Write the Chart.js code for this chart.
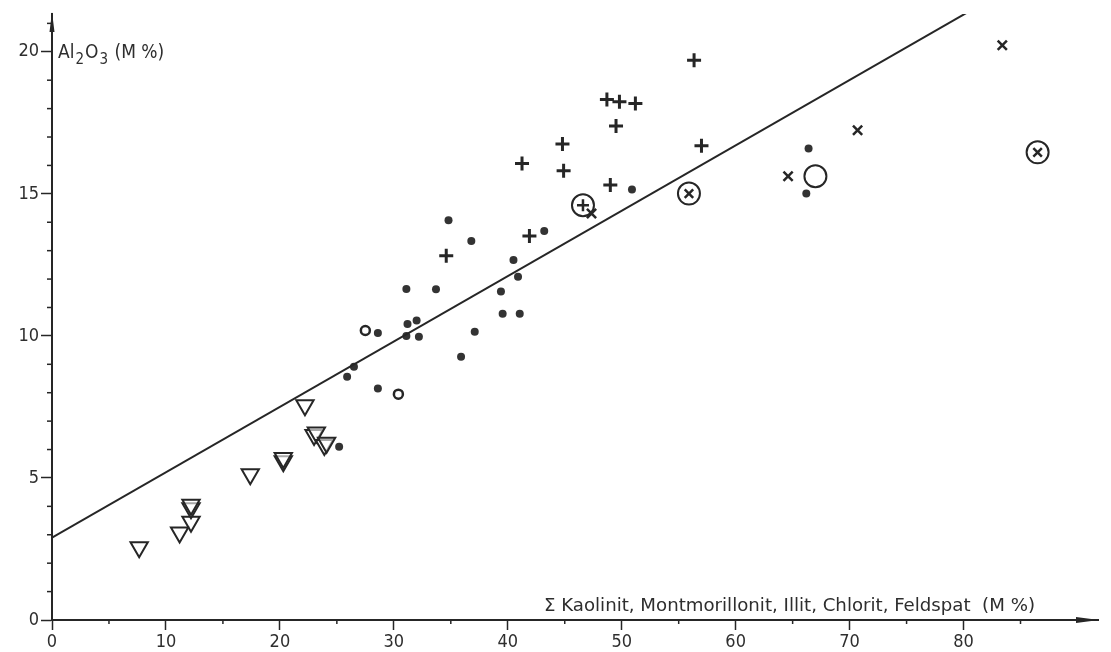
<!DOCTYPE html>
<html lang="de">
<head>
    <meta charset="UTF-8">
    <title>Al2O3 gegen Tonminerale</title>
    <style>
        body {
            margin: 0;
            background-color: #fff;
        }

        .chart-box {
            width: 1111px;
            height: 652px;
        }
    </style>
    <script src="https://cdn.jsdelivr.net/npm/chart.js"></script>
</head>
<body>
<div class="chart-box">
    <canvas id="alChart"></canvas>
</div>
<script>
    // values (x = sum of minerals M%, y = Al2O3 M%)
    const dotX = [25.2, 25.9, 26.5, 28.6, 28.6, 31.1, 31.2, 32.0, 32.2, 31.1, 33.7, 34.8, 36.8, 35.9, 37.1, 39.4, 39.55, 41.05, 40.5, 40.9, 43.2, 50.9, 66.4, 66.2];
    const dotY = [6.10, 8.56, 8.91, 8.15, 10.10, 10.0, 10.42, 10.54, 9.97, 11.65, 11.64, 14.07, 13.34, 9.27, 10.15, 11.56, 10.78, 10.78, 12.67, 12.08, 13.69, 15.15, 16.60, 15.01];

    const ringX = [27.5, 30.4];
    const ringY = [10.19, 7.95];

    const bigRingX = [67.0];
    const bigRingY = [15.62];

    const plusX = [56.35, 48.7, 49.8, 51.2, 49.5, 44.8, 41.25, 44.9, 57.0, 49.0, 34.6, 41.9];
    const plusY = [19.70, 18.32, 18.24, 18.18, 17.39, 16.75, 16.07, 15.81, 16.69, 15.31, 12.82, 13.52];

    const crossX = [83.4, 70.7, 64.6, 47.35];
    const crossY = [20.23, 17.24, 15.62, 14.31];

    const circPlusX = [46.6];
    const circPlusY = [14.60];

    const circCrossX = [55.9, 86.5];
    const circCrossY = [15.01, 16.46];

    const triX = [7.65, 11.2, 12.2, 12.2, 12.2, 17.4, 20.3, 20.3, 22.2, 23.0, 23.2, 23.9, 24.1];
    const triY = [2.56, 3.08, 3.46, 3.93, 4.06, 5.13, 5.59, 5.70, 7.56, 6.51, 6.60, 6.16, 6.24];

    // regression line end points
    const fitX = [0, 80.4];
    const fitY = [2.9, 21.4];

    const xTicks = [0, 10, 20, 30, 40, 50, 60, 70, 80];
    const yTicks = [0, 5, 10, 15, 20];

    const ink = '#262626';
    const textInk = '#2e2e2e';
    const fontFamily = "'Liberation Sans Narrow', 'DejaVu Sans Condensed', sans-serif";

    function pts(xs, ys) {
        return xs.map((x, i) => ({x: x, y: ys[i]}));
    }

    // minor ticks, arrow heads and the two axis titles
    const axisExtras = {
        id: 'axisExtras',
        afterDraw(chart) {
            const ctx = chart.ctx;
            const xs = chart.scales.x;
            const ys = chart.scales.y;
            const left = chart.chartArea.left;
            const bottom = chart.chartArea.bottom;
            const top = chart.chartArea.top;
            const right = chart.chartArea.right;

            ctx.save();
            ctx.strokeStyle = ink;
            ctx.fillStyle = ink;
            ctx.lineWidth = 1.5;

            for (let v = 1; v <= 21; v++) {
                if (v % 5 === 0) continue;
                const py = ys.getPixelForValue(v);
                ctx.beginPath();
                ctx.moveTo(left - 5, py);
                ctx.lineTo(left, py);
                ctx.stroke();
            }
            for (let v = 5; v <= 85; v += 10) {
                const px = xs.getPixelForValue(v);
                ctx.beginPath();
                ctx.moveTo(px, bottom);
                ctx.lineTo(px, bottom + 4);
                ctx.stroke();
            }

            // y arrow
            ctx.beginPath();
            ctx.moveTo(left, top - 2);
            ctx.lineTo(left - 2.5, top + 18);
            ctx.lineTo(left + 2.5, top + 18);
            ctx.closePath();
            ctx.fill();

            // x arrow
            ctx.beginPath();
            ctx.moveTo(right + 1, bottom);
            ctx.lineTo(right - 22, bottom - 3);
            ctx.lineTo(right - 22, bottom + 3);
            ctx.closePath();
            ctx.fill();

            // y title with subscripts
            ctx.fillStyle = textInk;
            ctx.textBaseline = 'alphabetic';
            ctx.textAlign = 'left';
            const big = '19px ' + fontFamily;
            const small = '15px ' + fontFamily;
            let tx = left + 6;
            const ty = 58;
            const parts = [['Al', big, 0], ['2', small, 6], ['O', big, 0], ['3', small, 6], [' (M %)', big, 0]];
            parts.forEach(p => {
                ctx.font = p[1];
                ctx.fillText(p[0], tx, ty + p[2]);
                tx += ctx.measureText(p[0]).width + 1;
            });

            // x title, stretched to the width it has in the scan
            const label = 'Σ Kaolinit, Montmorillonit, Illit, Chlorit, Feldspat  (M %)';
            ctx.font = '18px ' + fontFamily;
            const w = ctx.measureText(label).width;
            const x0 = 544, x1 = 1035;
            ctx.translate(x0, bottom - 9);
            ctx.scale((x1 - x0) / w, 1);
            ctx.fillText(label, 0, 0);
            ctx.restore();
        }
    };

    const ctxAl = document.getElementById('alChart').getContext('2d');
    const alChart = new Chart(ctxAl, {
        type: 'scatter',
        data: {
            datasets: [
                {
                    label: 'Regression',
                    type: 'line',
                    data: pts(fitX, fitY),
                    borderColor: ink,
                    borderWidth: 2,
                    pointRadius: 0,
                    fill: false
                },
                {
                    label: 'dots',
                    data: pts(dotX, dotY),
                    pointStyle: 'circle',
                    pointRadius: 4,
                    backgroundColor: '#333',
                    borderColor: '#333',
                    borderWidth: 0
                },
                {
                    label: 'rings',
                    data: pts(ringX, ringY),
                    pointStyle: 'circle',
                    pointRadius: 4.5,
                    backgroundColor: 'transparent',
                    borderColor: ink,
                    borderWidth: 2.5
                },
                {
                    label: 'big ring',
                    data: pts(bigRingX, bigRingY),
                    pointStyle: 'circle',
                    pointRadius: 11,
                    backgroundColor: 'transparent',
                    borderColor: ink,
                    borderWidth: 2
                },
                {
                    label: 'plus',
                    data: pts(plusX, plusY),
                    pointStyle: 'cross',
                    pointRadius: 7,
                    borderColor: ink,
                    borderWidth: 3
                },
                {
                    label: 'cross',
                    data: pts(crossX, crossY),
                    pointStyle: 'crossRot',
                    pointRadius: 6.5,
                    borderColor: ink,
                    borderWidth: 2.5
                },
                {
                    label: 'circled plus',
                    data: pts(circPlusX, circPlusY),
                    pointStyle: 'cross',
                    pointRadius: 6,
                    borderColor: ink,
                    borderWidth: 2.5
                },
                {
                    label: 'circled plus ring',
                    data: pts(circPlusX, circPlusY),
                    pointStyle: 'circle',
                    pointRadius: 11,
                    backgroundColor: 'transparent',
                    borderColor: ink,
                    borderWidth: 2
                },
                {
                    label: 'circled cross',
                    data: pts(circCrossX, circCrossY),
                    pointStyle: 'crossRot',
                    pointRadius: 6,
                    borderColor: ink,
                    borderWidth: 2.5
                },
                {
                    label: 'circled cross ring',
                    data: pts(circCrossX, circCrossY),
                    pointStyle: 'circle',
                    pointRadius: 11,
                    backgroundColor: 'transparent',
                    borderColor: ink,
                    borderWidth: 2
                },
                {
                    label: 'triangles',
                    data: pts(triX, triY),
                    pointStyle: 'triangle',
                    rotation: 180,
                    pointRadius: 10,
                    backgroundColor: 'rgba(255,255,255,0.6)',
                    borderColor: ink,
                    borderWidth: 2
                }
            ]
        },
        options: {
            responsive: true,
            maintainAspectRatio: false,
            animation: false,
            events: [],
            layout: {
                padding: {top: 14, right: 11, left: 0, bottom: 0}
            },
            plugins: {
                legend: {display: false},
                tooltip: {enabled: false}
            },
            scales: {
                x: {
                    type: 'linear',
                    min: 0,
                    max: 91.8,
                    afterFit: s => { s.height = 32; },
                    afterBuildTicks: s => { s.ticks = xTicks.map(v => ({value: v})); },
                    border: {color: ink, width: 2},
                    grid: {drawOnChartArea: false, tickLength: 10, tickWidth: 1.5, tickColor: ink},
                    ticks: {color: textInk, padding: 2, font: {family: fontFamily, size: 18}}
                },
                y: {
                    type: 'linear',
                    min: 0,
                    max: 21.33,
                    afterFit: s => { s.width = 52; },
                    afterBuildTicks: s => { s.ticks = yTicks.map(v => ({value: v})); },
                    border: {color: ink, width: 2},
                    grid: {drawOnChartArea: false, tickLength: 11, tickWidth: 1.5, tickColor: ink},
                    ticks: {color: textInk, padding: 2, font: {family: fontFamily, size: 18}}
                }
            }
        },
        plugins: [axisExtras]
    });
</script>
</body>
</html>
